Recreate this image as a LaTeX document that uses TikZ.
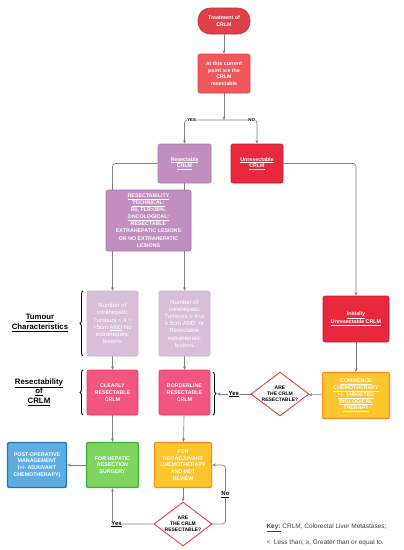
\documentclass[tikz,border=0pt]{standalone}
\usepackage{fontspec}
\setmainfont{Liberation Sans}
\usetikzlibrary{shapes.geometric, arrows.meta, decorations.pathreplacing}

\definecolor{startred}{HTML}{E0404A}
\definecolor{startedge}{HTML}{C22F3A}
\definecolor{askred}{HTML}{F0575A}
\definecolor{askedge}{HTML}{DD4548}
\definecolor{resmauve}{HTML}{C18EBF}
\definecolor{resedge}{HTML}{A776A5}
\definecolor{unresred}{HTML}{E8283C}
\definecolor{unresedge}{HTML}{C61D30}
\definecolor{lilac}{HTML}{D9BED8}
\definecolor{lilacedge}{HTML}{CDB0CC}
\definecolor{pinkbox}{HTML}{F2557F}
\definecolor{pinkedge}{HTML}{D9416B}
\definecolor{chemoyellow}{HTML}{FFC52C}
\definecolor{chemoedge}{HTML}{FF8A1E}
\definecolor{surggreen}{HTML}{7FD35F}
\definecolor{surgedge}{HTML}{3FAE3F}
\definecolor{postblue}{HTML}{5EADE2}
\definecolor{postedge}{HTML}{2472B8}
\definecolor{diaedge}{HTML}{F03C3C}
\definecolor{linkgray}{HTML}{808080}
\definecolor{keygray}{HTML}{404040}

\tikzset{
  box/.style={draw, rounded corners=2pt, align=center, text=white, inner sep=1pt,
    line width=0.6pt, font=\fontsize{5.3}{6.8}\selectfont\bfseries},
  thickbox/.style={box, line width=1.4pt},
  ask/.style={diamond, draw=diaedge, line width=0.9pt, fill=white, minimum width=58pt,
    minimum height=44pt, inner sep=-3pt, align=center, font=\fontsize{5}{6}\selectfont\bfseries},
  link/.style={draw=linkgray, line width=0.6pt, rounded corners=3pt},
  tip/.style={-{Stealth[length=3.5pt,width=3pt]}},
  tag/.style={fill=white, inner sep=0.6pt, font=\fontsize{6}{7}\selectfont\bfseries},
  smalltag/.style={fill=white, inner sep=0.4pt, font=\fontsize{4.3}{5}\selectfont\bfseries},
  curly/.style={decorate, decoration={brace, amplitude=3pt}, line width=0.9pt},
  side/.style={align=center, font=\fontsize{7.8}{9.6}\selectfont\bfseries},
}

\begin{document}
\begin{tikzpicture}[x=1pt, y=-1pt]
        \useasboundingbox (0,0) rectangle (404,550);

        % top of the chart
            \node[box, draw=startedge, fill=startred, rounded corners=12pt, minimum width=52pt, minimum height=26pt] (start) at (224,21) {Treatment of\\CRLM};
            \node[box, draw=askedge, fill=askred, minimum width=52pt, minimum height=39pt] (current) at (224,73.5) {At this current\\point are the\\CRLM\\resectable};
            \coordinate (split) at (224,120);
            \node[box, draw=resedge, fill=resmauve, minimum width=53pt, minimum height=39pt] (resect) at (184.5,163.5) {\underline{Resectable}\\\underline{CRLM}};
            \node[box, draw=unresedge, fill=unresred, minimum width=52pt, minimum height=39pt] (unres) at (257,163.5) {\underline{Unresectable}\\\underline{CRLM}};

        % resectable branch
            \node[box, draw=lilacedge, fill=lilac, font=\fontsize{6}{7.2}\selectfont, minimum width=51pt, minimum height=65pt] (fewer) at (112.5,323.5) {Number of\\intrahepatic\\Tumours < 4 +\\<5cm \underline{AND} No\\extrahepatic\\lesions};
            \node[box, draw=lilacedge, fill=lilac, font=\fontsize{6}{7.2}\selectfont, minimum width=51pt, minimum height=65pt] (more) at (184.5,323.5) {Number of\\intrahepatic\\Tumours ≥ 4 or\\≥ 5cm AND\ \ or\\Resectable\\extrahepatic\\lesions};
            \node[box, draw=pinkedge, fill=pinkbox, minimum width=51pt, minimum height=45pt] (clear) at (112.5,392.5) {CLEARLY\\RESECTABLE\\CRLM};
            \node[box, draw=pinkedge, fill=pinkbox, minimum width=51pt, minimum height=45pt] (border) at (184.5,392.5) {BORDERLINE\\RESECTABLE\\CRLM};

        % unresectable branch
            \node[box, draw=unresedge, fill=unresred, minimum width=66pt, minimum height=46pt] (initial) at (356,319) {\underline{Initially}\\\underline{Unresectable CRLM}};
            \node[thickbox, draw=chemoedge, fill=chemoyellow, minimum width=67pt, minimum height=46pt] (commence) at (356,395.5) {\underline{COMMENCE}\\\underline{CHEMOTHERAPY}\\\underline{+/- TARGETED}\\\underline{BIOLOGICAL}\\\underline{THERAPY}};
            \node[ask] (askone) at (280,394) {ARE\\THE CRLM\\RESECTABLE?};
            \coordinate (bracetip) at (217,394);

        % bottom row
            \node[thickbox, draw=postedge, fill=postblue, minimum width=59pt, minimum height=45pt] (postop) at (37,465) {POST-OPERATIVE\\MANAGEMENT\\(+/- ADJUVANT\\CHEMOTHERAPY)};
            \node[thickbox, draw=surgedge, fill=surggreen, minimum width=52pt, minimum height=45pt] (surgery) at (112.5,465) {FOR HEPATIC\\RESECTION\\SURGERY};
            \node[thickbox, draw=chemoedge, fill=chemoyellow, minimum width=57pt, minimum height=45pt] (neoadj) at (183,465) {FOR\\NEOADJUVANT\\CHEMOTHERAPY\\AND MDT\\REVIEW};
            \node[ask] (asktwo) at (183,524) {ARE\\THE CRLM\\RESECTABLE?};

        % connectors
            \draw[link, tip] (start) -- (current);
            \draw[link, tip] (current) -- (split);
            \draw[link, tip] (split) -| node[smalltag, pos=0.41] {YES} (resect);
            \draw[link, tip] (split) -| node[smalltag, pos=0.42] {NO} (unres);
            \draw[link, tip] (resect.west) -| (fewer);
            \draw[link, tip] (resect) -- (more);
            \draw[link, tip] (unres.east) -| (initial);
            \draw[link, tip] (fewer) -- (clear);
            \draw[link, tip] (more) -- (border);
            \draw[link, tip] (initial) -- (commence);
            \draw[link, tip] (commence) -- (askone);
            \draw[link, tip] (askone) -- node[tag] {\underline{Yes}} (bracetip);
            \draw[link, tip] (clear) -- (surgery);
            \draw[link, tip] (border) -- (neoadj);
            \draw[link, tip] (surgery) -- (postop);
            \draw[link, tip] (neoadj) -- (asktwo);
            \draw[link, tip] (asktwo.west) -| node[tag, pos=0.45] {\underline{Yes}} (surgery);
            \draw[link, tip] (asktwo.east) -- ++(13,0) |- node[tag, pos=0.25] {\underline{No}} (neoadj.east);

        % criteria box sits over the two lines
            \node[box, draw=resedge, fill=resmauve, font=\fontsize{5.3}{7.1}\selectfont\bfseries, minimum width=85pt, minimum height=61pt] (criteria) at (148.5,220.5) {\underline{RESECTABILITY}\\\underline{TECHNICAL:}\\R0, FLR>30\%,\\\underline{ONCOLOGICAL:}\\RESECTABLE\\EXTRAHEPATIC LESIONS\\OR NO EXTRAHEPATIC\\LESIONS};

        % braces and side labels
            \draw[curly] (83,356) -- (83,291);
            \draw[curly] (83,415) -- (83,370);
            \draw[curly] (213,372) -- (213,415);
            \node[side] (tumour) at (40,323) {\underline{Tumour}\\\underline{Characteristics}};
            \node[side] (resectability) at (39,392) {\underline{Resectability}\\\underline{of}\\\underline{CRLM}};

        % key
            \node[anchor=west, align=left, text=keygray, font=\fontsize{6.5}{16}\selectfont] (key) at (263,535) {\underline{\textbf{Key:}} CRLM, Colorectal Liver Metastases;\\<\ \ Less than; ≥, Greater than or equal to.};

\end{tikzpicture}
\end{document}
